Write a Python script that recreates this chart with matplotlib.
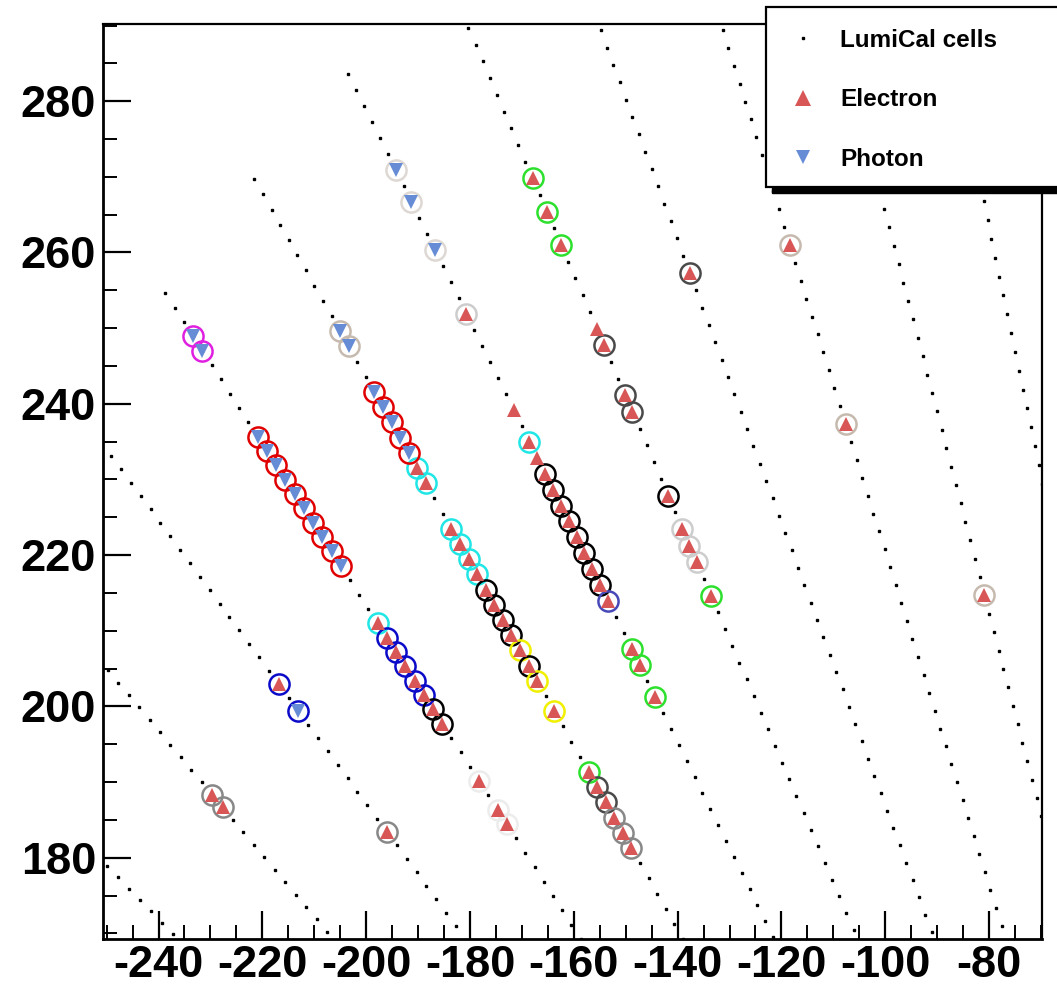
import numpy as np
import matplotlib.pyplot as plt
from matplotlib.patches import Rectangle
from matplotlib.lines import Line2D
from matplotlib.ticker import MultipleLocator

plt.rcParams['font.family'] = ['Liberation Sans', 'DejaVu Sans']
plt.rcParams['font.weight'] = 'bold'
plt.rcParams['axes.unicode_minus'] = False

# LumiCal layer geometry:
# sector centre angles (deg) and pad radii (outer pad radius, radial pitch)
sector_phi = [144.4, 140.65, 136.9, 133.15, 129.4, 125.65, 121.9, 118.15, 114.4, 110.65, 106.9]
pad_r_outer = 349.0
pad_pitch = 2.6
n_pads = 72

# hits: (sector angle, pad number counted inwards from the outer pad, cluster ring)
electron_hits = [
    (140.65, 20, 'gray'), (140.65, 21, 'gray'),
    (136.9, 20, 'blue'), (136.9, 31, 'gray'),
    (133.15, 23, 'cyan'), (133.15, 24, 'blue'), (133.15, 25, 'blue'), (133.15, 26, 'blue'),
    (133.15, 27, 'blue'), (133.15, 28, 'blue'), (133.15, 29, 'black'), (133.15, 30, 'black'),
    (133.15, 34, 'faint'), (133.15, 36, 'faint'), (133.15, 37, 'faint'),
    (129.4, 19, 'cyan'), (129.4, 20, 'cyan'), (129.4, 23, 'cyan'), (129.4, 24, 'cyan'),
    (129.4, 25, 'cyan'), (129.4, 26, 'cyan'), (129.4, 27, 'black'), (129.4, 28, 'black'),
    (129.4, 29, 'black'), (129.4, 30, 'black'), (129.4, 31, 'yellow'), (129.4, 32, 'black'),
    (129.4, 33, 'yellow'), (129.4, 35, 'yellow'), (129.4, 39, 'green'), (129.4, 40, 'darkgray'),
    (129.4, 41, 'darkgray'), (129.4, 42, 'gray'), (129.4, 43, 'gray'), (129.4, 44, 'gray'),
    (125.65, 15, 'lightgray'), (125.65, 21, None), (125.65, 23, 'cyan'), (125.65, 24, None),
    (125.65, 25, 'black'), (125.65, 26, 'black'), (125.65, 27, 'black'), (125.65, 28, 'black'),
    (125.65, 29, 'black'), (125.65, 30, 'black'), (125.65, 31, 'black'), (125.65, 32, 'black'),
    (125.65, 33, 'violet'), (125.65, 36, 'green'), (125.65, 37, 'green'), (125.65, 39, 'green'),
    (121.9, 12, 'green'), (121.9, 14, 'green'), (121.9, 16, 'green'), (121.9, 21, None),
    (121.9, 22, 'darkgray'), (121.9, 25, 'darkgray'), (121.9, 26, 'darkgray'),
    (121.9, 31, 'black'), (121.9, 33, 'lightgray'), (121.9, 34, 'lightgray'),
    (121.9, 35, 'lightgray'), (121.9, 37, 'green'),
    (118.15, 22, 'darkgray'),
    (114.4, 24, 'tan'), (114.4, 34, 'tan'),
    (110.65, 46, 'tan'),
]

photon_hits = [
    (136.9, 22, 'blue'),
    (133.15, 3, 'magenta'), (133.15, 4, 'magenta'),
    (133.15, 10, 'red'), (133.15, 11, 'red'), (133.15, 12, 'red'), (133.15, 13, 'red'),
    (133.15, 14, 'red'), (133.15, 15, 'red'), (133.15, 16, 'red'), (133.15, 17, 'red'),
    (133.15, 18, 'red'), (133.15, 19, 'red'),
    (129.4, 10, 'tan'), (129.4, 11, 'tan'),
    (129.4, 14, 'red'), (129.4, 15, 'red'), (129.4, 16, 'red'), (129.4, 17, 'red'), (129.4, 18, 'red'),
    (125.65, 6, 'pale'), (125.65, 8, 'pale'), (125.65, 11, 'pale'),
]

legend_labels = ['LumiCal cells', 'Electron', 'Photon']

ring_colors = {
    'red': '#e00000', 'magenta': '#e020e0', 'cyan': '#20e6e6', 'blue': '#0a0ac8',
    'black': '#000000', 'yellow': '#f0f000', 'green': '#2ee02e', 'violet': '#4848b8',
    'darkgray': '#4a4a4a', 'gray': '#888888', 'lightgray': '#cdcdcd', 'tan': '#c6baae',
    'pale': '#ddd8d3', 'faint': '#ececec',
}
electron_color = '#d85656'
photon_color = '#668cd6'


def pad_xy(phi, pad):
    r = pad_r_outer - pad_pitch * np.asarray(pad, dtype=float)
    a = np.radians(phi)
    return r * np.cos(a), r * np.sin(a)


fig = plt.figure(figsize=(10.57, 9.88), dpi=100)
ax = fig.add_axes([103 / 1057, 1 - 939 / 988, 939 / 1057, 915 / 988])

# cells
pads = np.arange(n_pads)
for phi in sector_phi:
    cx, cy = pad_xy(phi, pads)
    ax.plot(cx, cy, 's', ms=1.9, color='black', lw=0, zorder=1)

# rings then markers
for hits, marker, color in [(electron_hits, '^', electron_color),
                            (photon_hits, 'v', photon_color)]:
    for phi, pad, ring in hits:
        hx, hy = pad_xy(phi, pad)
        if ring is not None:
            ax.plot(hx, hy, 'o', ms=14.5, mfc='none', mec=ring_colors[ring], mew=1.8, zorder=2)
        ax.plot(hx, hy, marker, ms=9.5, color=color, mew=0, zorder=3)

ax.set_xlim(-250.7, -69.8)
ax.set_ylim(169.25, 290.2)
ax.set_xticks(range(-240, -79, 20))
ax.set_yticks(range(180, 281, 20))
ax.xaxis.set_minor_locator(MultipleLocator(5))
ax.yaxis.set_minor_locator(MultipleLocator(5))
ax.tick_params(which='major', direction='in', length=20, width=1.6, labelsize=32.5)
ax.tick_params(axis='x', which='major', pad=4)
ax.tick_params(axis='y', which='major', pad=5)
ax.tick_params(which='minor', direction='in', length=10, width=1.4)
for side in ['left', 'bottom']:
    ax.spines[side].set_linewidth(2.0)
for side in ['top', 'right']:
    ax.spines[side].set_linewidth(1.6)

# legend box with ROOT style shadow
fig.add_artist(Rectangle((772 / 1057, 1 - 193 / 988), 310 / 1057, 180 / 988,
                         transform=fig.transFigure, facecolor='black', edgecolor='black', zorder=10))
fig.add_artist(Rectangle((766 / 1057, 1 - 187 / 988), 310 / 1057, 180 / 988,
                         transform=fig.transFigure, facecolor='white', edgecolor='black',
                         lw=1.6, zorder=11))
handles = [Line2D([], [], marker='s', ms=2.0, ls='none', color='black'),
           Line2D([], [], marker='^', ms=11, ls='none', color=electron_color, mew=0),
           Line2D([], [], marker='v', ms=9.5, ls='none', color=photon_color, mew=0)]
leg = fig.legend(handles, legend_labels, loc='upper left', bbox_to_anchor=(786 / 1057, 1 - 29 / 988),
                 bbox_transform=fig.transFigure, frameon=False, borderpad=0, borderaxespad=0,
                 handlelength=1.4, handletextpad=0.82, labelspacing=1.5,
                 prop={'family': 'Liberation Sans', 'weight': 'bold', 'size': 17.5})
leg.set_zorder(12)

fig.savefig('out.png', dpi=100)
